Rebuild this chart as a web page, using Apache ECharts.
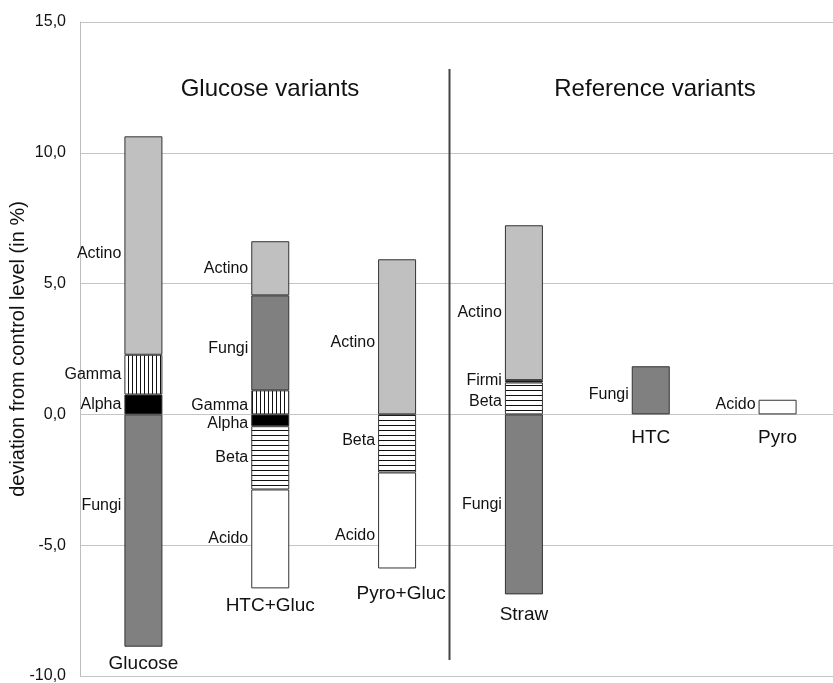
<!DOCTYPE html>
<html><head><meta charset="utf-8">
<script src="https://cdn.jsdelivr.net/npm/echarts@6/dist/echarts.min.js"></script>
<style>html,body{margin:0;padding:0;background:#fff}#c{width:833px;height:683px}</style>
</head><body><div id="c"></div>
<script>
// ---- data ----
const categories = ['Glucose', 'HTC+Gluc', 'Pyro+Gluc', 'Straw', 'HTC', 'Pyro'];
const alpha  = [0.76, -0.45, null, null, null, null];
const gamma  = [1.52, 0.92, null, null, null, null];
const beta   = [null, -2.42, -2.22, 1.22, null, null];
const firmi  = [null, null, null, 0.09, null, null];
const fungi  = [-8.88, 3.63, null, -6.88, 1.84, null];
const acido  = [null, -3.78, -3.67, null, null, 0.56];
const actino = [8.35, 2.07, 5.93, 5.92, null, null];
const yMin = -10, yMax = 15, yStep = 5;
const groupTitles = ['Glucose variants', 'Reference variants'];
const yName = 'deviation from control level (in %)';

// ---- styles ----
function stripes(vertical) {
  const c = document.createElement('canvas');
  const p = vertical ? 4 : 5;
  c.width = p; c.height = p;
  const g = c.getContext('2d');
  g.fillStyle = '#fff'; g.fillRect(0, 0, p, p);
  g.fillStyle = '#111';
  if (vertical) g.fillRect(0, 0, 1, p); else g.fillRect(0, 0, p, 1);
  return { image: c, repeat: 'repeat' };
}
const seriesDefs = [
  { name: 'Alpha', data: alpha, color: '#000000' },
  { name: 'Gamma', data: gamma, color: stripes(true) },
  { name: 'Beta', data: beta, color: stripes(false) },
  { name: 'Firmi', data: firmi, color: '#000000' },
  { name: 'Fungi', data: fungi, color: '#808080' },
  { name: 'Acido', data: acido, color: '#ffffff' },
  { name: 'Actino', data: actino, color: '#c0c0c0' }
];
// label y-offsets (pixels) per series/category
const labelShift = {
  Actino: [8, 0, 6, 10, 0, 0],
  Fungi: [-25, 6, 0, 0, 4, 0],
  Gamma: [0, 3, 0, 0, 0, 0],
  Alpha: [0, 3, 0, 0, 0, 0],
  Beta: [0, 0, -3, 3, 0, 0],
  Acido: [0, 0, 15, 0, 0, -2],
  Firmi: [0, 0, 0, -1, 0, 0]
};
const catLabelOffset = [[0, 0], [0, 0], [4, 8], [0, 3], [0, 6], [0, 6]];

const FONT = 'Liberation Sans, Arial, sans-serif';
const series = seriesDefs.map(s => ({
  name: s.name,
  type: 'bar',
  stack: 'total',
  barWidth: 38,
  data: s.data.map((v, i) => v == null ? null : {
    value: v,
    label: { offset: [0, (labelShift[s.name] || [])[i] || 0] }
  }),
  itemStyle: { color: s.color, borderColor: '#333', borderWidth: 1 },
  label: {
    show: true, position: 'left', distance: 3,
    formatter: s.name, color: '#111', fontSize: 16, fontFamily: FONT
  },
  emphasis: { disabled: true },
  animation: false
}));

// bottoms of bars for category name labels
const bottoms = categories.map((_, i) => {
  let neg = 0;
  seriesDefs.forEach(s => { const v = s.data[i]; if (v != null && v < 0) neg += v; });
  return neg;
});
series.push({
  type: 'scatter',
  symbolSize: 1,
  itemStyle: { color: 'rgba(0,0,0,0)', opacity: 1 },
  data: bottoms.map((v, i) => ({ value: v, label: { offset: catLabelOffset[i] } })),
  label: {
    show: true, position: 'bottom', distance: 7,
    formatter: p => categories[p.dataIndex], color: '#111', fontSize: 19, fontFamily: FONT
  },
  emphasis: { disabled: true },
  silent: true,
  z: 5,
  animation: false
});

const chart = echarts.init(document.getElementById('c'), null, { renderer: 'canvas' });
chart.setOption({
  animation: false,
  grid: { left: 80, top: 22, width: 761, height: 654, containLabel: false, outerBoundsMode: 'none' },
  xAxis: {
    type: 'category', data: categories,
    axisLine: { show: false }, axisTick: { show: false }, axisLabel: { show: false },
    splitLine: { show: false }
  },
  yAxis: {
    type: 'value', min: yMin, max: yMax, interval: yStep,
    axisLine: { show: true, lineStyle: { color: '#bdbdbd', width: 1 } },
    axisTick: { show: false },
    axisLabel: {
      fontSize: 16, color: '#111', fontFamily: FONT, margin: 14,
      formatter: v => v.toFixed(1).replace('.', ',')
    },
    splitLine: { show: true, lineStyle: { color: '#c4c4c4', width: 1 } }
  },
  graphic: [
    { type: 'line', shape: { x1: 449.5, y1: 69, x2: 449.5, y2: 660 },
      style: { stroke: '#444', lineWidth: 2 }, z: 10 },
    { type: 'text', x: 270, y: 89, style: { text: groupTitles[0], font: '24px ' + FONT,
      fill: '#111', textAlign: 'center', textVerticalAlign: 'middle' } },
    { type: 'text', x: 655, y: 89, style: { text: groupTitles[1], font: '24px ' + FONT,
      fill: '#111', textAlign: 'center', textVerticalAlign: 'middle' } },
    { type: 'text', x: 18, y: 349, rotation: Math.PI / 2,
      style: { text: yName, font: '20px ' + FONT, fill: '#111',
        textAlign: 'center', textVerticalAlign: 'middle' } }
  ],
  series: series
});
</script></body></html>
